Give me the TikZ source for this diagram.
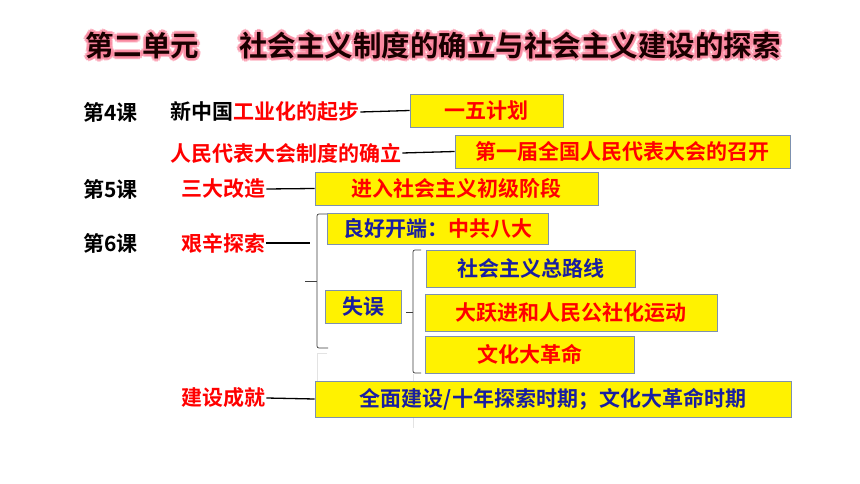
\documentclass[tikz,border=0pt]{standalone}
\usepackage{fontspec}
\setmainfont{Noto Sans CJK SC}[BoldFont={Noto Sans CJK SC Bold}]
\definecolor{boxline}{RGB}{125,145,175}
\definecolor{navy}{RGB}{25,30,160}
\definecolor{glow}{RGB}{250,130,155}
\definecolor{titleink}{RGB}{25,0,0}
\tikzset{
  cnfont/.style={font=\bfseries\fontsize{21}{21}\selectfont},
  titlefont/.style={font=\bfseries\fontsize{28.5}{28.5}\selectfont},
  lesson/.style={cnfont,anchor=west,inner sep=1pt},
  topic/.style={cnfont,anchor=west,inner sep=1pt,text=red},
  yellowbox/.style={cnfont,draw=boxline,fill=yellow,line width=0.9pt,inner sep=0pt},
  rule/.style={line width=1.3pt},
  bracket/.style={draw=black!75,line width=0.7pt,rounded corners=2pt},
}

\begin{document}
\begin{tikzpicture}[x=1pt,y=-1pt]
  \useasboundingbox[fill=white] (0,0) rectangle (860,484);

  % title with soft pink glow
  \foreach \dx/\dy in {-3/0,3/0,0/-3,0/3,-2/-2,2/-2,-2/2,2/2} {
    \node[titlefont,text=glow,opacity=0.6] at (142+\dx,46+\dy) {第二单元};
    \node[titlefont,text=glow,opacity=0.6] at (510+\dx,46+\dy) {社会主义制度的确立与社会主义建设的探索};
  }
  \node[titlefont,text=titleink] (unit) at (142,46) {第二单元};
  \node[titlefont,text=titleink] (theme) at (510,46) {社会主义制度的确立与社会主义建设的探索};

  % lessons
  \node[lesson] (l4) at (82,112) {第4课};
  \node[lesson] (l5) at (82,189) {第5课};
  \node[lesson] (l6) at (82,243) {第6课};

  % topics
  \node[lesson] (industry) at (169,112) {新中国\textcolor{red}{工业化的起步}};
  \node[topic] (npc) at (169,153) {人民代表大会制度的确立};
  \node[topic] (reform) at (180,189) {三大改造};
  \node[topic] (explore) at (180,243) {艰辛探索};
  \node[topic] (achieve) at (180,398) {建设成就};
  \coordinate (end6) at (310,243);

  % faint ghost brackets
  \draw[gray!22,line width=0.8pt] (327,353) -| (317,382);
  \draw[gray!22,line width=0.8pt] (413,374) -- (413,428);

  % brackets
  \draw[bracket] (328,214) -- (317,214) -- (317,348) -- (328,348);
  \draw[bracket,rounded corners=0pt] (305,281) -- (317,281);
  \draw[bracket] (421,250) -- (413,250) -- (413,373) -- (421,373);
  \draw[bracket,rounded corners=0pt] (406,312) -- (413,312);

  % answer boxes
  \node[yellowbox,minimum width=153,minimum height=33,text=red] (plan) at (486.5,110.5) {一五计划};
  \node[yellowbox,minimum width=335,minimum height=33,text=red] (congress) at (622.5,151.5) {第一届全国人民代表大会的召开};
  \node[yellowbox,minimum width=283,minimum height=33,text=red] (stage) at (456.5,188.5) {进入社会主义初级阶段};
  \node[yellowbox,minimum width=221,minimum height=31,text=navy] (start) at (437.5,228.5) {良好开端：\textcolor{red}{中共八大}\hspace{12pt}};
  \node[yellowbox,minimum width=76,minimum height=33,text=navy] (mistake) at (363,306.5) {失误};
  \node[yellowbox,minimum width=209,minimum height=37,text=navy] (route) at (530.5,268.5) {社会主义总路线};
  \node[yellowbox,minimum width=292,minimum height=37,text=red] (leap) at (571,312.5) {大跃进和人民公社化运动};
  \node[yellowbox,minimum width=209,minimum height=37,text=red] (culture) at (529.5,354.5) {文化大革命};
  \node[yellowbox,minimum width=476,minimum height=36,text=navy] (period) at (553,399) {全面建设/十年探索时期；文化大革命时期};

  % connectors
  \draw[rule] (industry.east) -- (plan.west);
  \draw[rule] (npc.east) -- (congress.west);
  \draw[rule] (reform.east) -- (stage.west);
  \draw[rule] (explore.east) -- (end6);
  \draw[rule] (achieve.east) -- (period.west);
\end{tikzpicture}
\end{document}
